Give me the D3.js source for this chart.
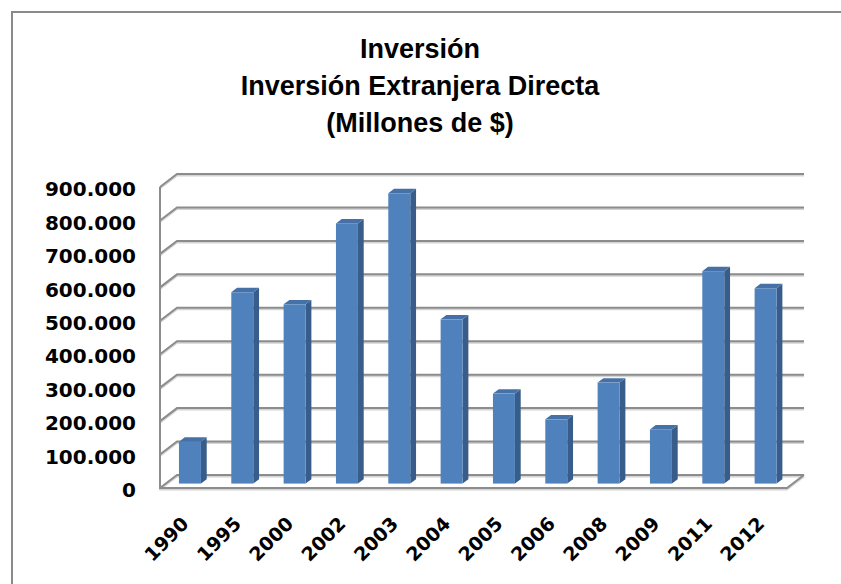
<!DOCTYPE html>
<html>
<head>
<meta charset="utf-8">
<script src="https://cdn.jsdelivr.net/npm/d3@7"></script>
<style>
  body { margin: 0; background: #fff; }
  svg { display: block; }
</style>
</head>
<body>
<script>
// Chart data
var years = ["1990", "1995", "2000", "2002", "2003", "2004", "2005", "2006", "2008", "2009", "2011", "2012"];
var inversion = [125000, 572000, 536000, 778000, 868000, 491000, 269000, 192000, 302000, 162000, 635000, 584000];
var yTicks = [0, 100000, 200000, 300000, 400000, 500000, 600000, 700000, 800000, 900000];
var titleLines = ["Inversión", "Inversión Extranjera Directa", "(Millones de $)"];

var width = 841,
    height = 584;

// front plane of the 3d box, and depth offset of the back wall
var plotLeft = 160, plotRight = 787, plotBottom = 488, plotTop = 187;
var depthX = 17, depthY = -13;
// bars sit in the middle third of the depth
var barFront = 0.34, barDepth = 0.34;

var svg = d3.select("body")
    .append("svg")
    .attr("width", width)
    .attr("height", height);

// chart border
svg.append("rect")
    .attr("x", 12)
    .attr("y", 12)
    .attr("width", width + 10)
    .attr("height", height + 10)
    .attr("fill", "none")
    .attr("stroke", "#8a8a8a")
    .attr("stroke-width", 2);

// Title
svg.append("g")
    .selectAll("text")
    .data(titleLines)
    .enter().append("text")
        .attr("x", 420)
        .attr("y", function(d, i) { return 58 + i * 37; })
        .attr("text-anchor", "middle")
        .attr("font-family", "'Liberation Sans', Arial, sans-serif")
        .attr("font-weight", "bold")
        .attr("font-size", 27)
        .attr("fill", "#000")
        .text(function(d) { return d; });

var x = d3.scaleBand()
    .domain(years)
    .range([158, 786])
    .paddingInner(0.58)
    .paddingOuter(0.29);

var y = d3.scaleLinear()
    .domain([0, 900000])
    .range([plotBottom, plotTop]);

var fmt = function(v) { return d3.format(",")(v).replace(/,/g, "."); };

// gridlines drawn twice: a soft shadow, then the line itself
[{ color: "#d4d4d4", off: 1.5 }, { color: "#8c8c8c", off: 0 }].forEach(function(s) {
    var grid = svg.append("g")
        .attr("fill", "none")
        .attr("stroke", s.color)
        .attr("stroke-width", 2)
        .attr("transform", "translate(0," + s.off + ")");

    // back wall gridlines + side wall diagonals
    yTicks.forEach(function(t) {
        var yy = y(t);
        grid.append("path")
            .attr("d", "M" + plotLeft + "," + yy +
                "L" + (plotLeft + depthX) + "," + (yy + depthY) +
                "L" + (plotRight + depthX) + "," + (yy + depthY));
    });

    // side wall front edge and floor
    grid.append("path")
        .attr("d", "M" + plotLeft + "," + y(900000) + "L" + plotLeft + "," + plotBottom +
            "L" + plotRight + "," + plotBottom + "L" + (plotRight + depthX) + "," + (plotBottom + depthY));
});

// Y labels
svg.append("g")
    .selectAll("text")
    .data(yTicks)
    .enter().append("text")
        .attr("x", 136)
        .attr("y", function(d) { return y(d) + 2; })
        .attr("dy", "0.36em")
        .attr("text-anchor", "end")
        .attr("font-family", "'DejaVu Sans', sans-serif")
        .attr("font-weight", "bold")
        .attr("font-size", 20)
        .attr("fill", "#000")
        .text(fmt);

// Bars (front face, side, top)
var fx = depthX * barFront, fy = depthY * barFront;
var dx = depthX * barDepth, dy = depthY * barDepth;

var bars = svg.append("g")
    .selectAll("g")
    .data(years.map(function(d, i) { return { year: d, value: inversion[i] }; }))
    .enter().append("g");

bars.append("path")
    .attr("fill", "#385d8a")
    .attr("d", function(d) {
        var x1 = x(d.year) + x.bandwidth() + fx, y0 = plotBottom + fy, y1 = y(d.value) + fy;
        return "M" + x1 + "," + y0 + "L" + x1 + "," + y1 + "L" + (x1 + dx) + "," + (y1 + dy) +
            "L" + (x1 + dx) + "," + (y0 + dy) + "Z";
    });

bars.append("path")
    .attr("fill", "#4571a6")
    .attr("d", function(d) {
        var x0 = x(d.year) + fx, x1 = x0 + x.bandwidth(), y1 = y(d.value) + fy;
        return "M" + x0 + "," + y1 + "L" + x1 + "," + y1 + "L" + (x1 + dx) + "," + (y1 + dy) +
            "L" + (x0 + dx) + "," + (y1 + dy) + "Z";
    });

bars.append("rect")
    .attr("fill", "#4f81bd")
    .attr("x", function(d) { return x(d.year) + fx; })
    .attr("y", function(d) { return y(d.value) + fy; })
    .attr("width", x.bandwidth())
    .attr("height", function(d) { return plotBottom - y(d.value); });

// X labels, rotated
svg.append("g")
    .selectAll("text")
    .data(years)
    .enter().append("text")
        .attr("transform", function(d) {
            return "translate(" + (x(d) + x.bandwidth() / 2 + fx) + ",525) rotate(-45)";
        })
        .attr("text-anchor", "end")
        .attr("font-family", "'DejaVu Sans', sans-serif")
        .attr("font-weight", "bold")
        .attr("font-size", 19)
        .attr("fill", "#000")
        .text(function(d) { return d; });
</script>
</body>
</html>
